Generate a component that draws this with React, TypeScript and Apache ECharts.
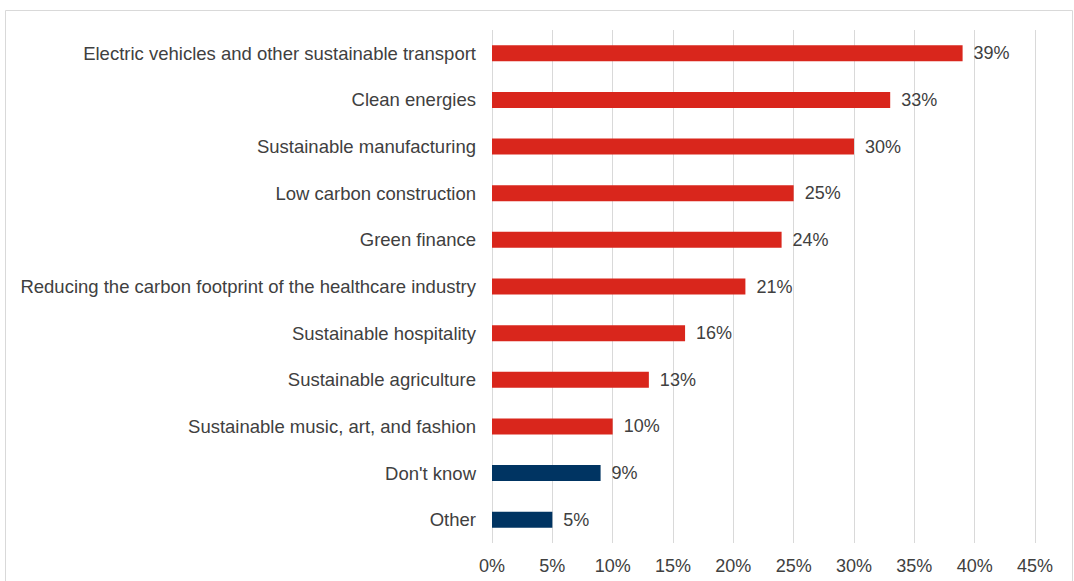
import React, { useEffect, useRef } from "react";
import * as echarts from "echarts";

const categories = [
  "Electric vehicles and other sustainable transport",
  "Clean energies",
  "Sustainable manufacturing",
  "Low carbon construction",
  "Green finance",
  "Reducing the carbon footprint of the healthcare industry",
  "Sustainable hospitality",
  "Sustainable agriculture",
  "Sustainable music, art, and fashion",
  "Don't know",
  "Other",
];
const values = [39, 33, 30, 25, 24, 21, 16, 13, 10, 9, 5];
const highlightGroup = [true, true, true, true, true, true, true, true, true, false, false];
const RED = "#D9261C";
const NAVY = "#003462";

export default function App() {
  const ref = useRef<HTMLDivElement>(null);
  useEffect(() => {
    if (!ref.current) return;
    const chart = echarts.init(ref.current, undefined, { renderer: "svg" });
    const font = "'Liberation Sans', Arial, sans-serif";
    chart.setOption({
      animation: false,
      backgroundColor: "#ffffff",
      graphic: [
        {
          type: "rect",
          shape: { x: 5.5, y: 10.5, width: 1067, height: 620 },
          style: { fill: "none", stroke: "#d9d9d9", lineWidth: 1 },
          silent: true,
        },
      ],
      grid: { left: 492, right: 39, top: 30, bottom: 38, containLabel: false },
      xAxis: {
        type: "value",
        min: 0,
        max: 45,
        interval: 5,
        axisLine: { show: false },
        axisTick: { show: false },
        splitLine: { show: true, lineStyle: { color: "#d9d9d9", width: 1 } },
        axisLabel: {
          formatter: (v: number) => v + "%",
          color: "#404040",
          fontSize: 18,
          fontFamily: font,
          margin: 14,
        },
      },
      yAxis: {
        type: "category",
        data: categories,
        inverse: true,
        axisLine: { show: false },
        axisTick: { show: false },
        axisLabel: {
          color: "#404040",
          fontSize: 18.5,
          fontFamily: font,
          margin: 16,
        },
      },
      series: [
        {
          type: "bar",
          barWidth: 16,
          data: values.map((v, i) => ({
            value: v,
            itemStyle: { color: highlightGroup[i] ? RED : NAVY },
          })),
          label: {
            show: true,
            position: "right",
            distance: 11,
            formatter: (p: any) => p.value + "%",
            color: "#404040",
            fontSize: 18,
            fontFamily: font,
          },
        },
      ],
    });
    return () => chart.dispose();
  }, []);
  return (
    <div
      ref={ref}
      style={{ position: "fixed", left: 0, top: 0, width: 1074, height: 581 }}
    />
  );
}
